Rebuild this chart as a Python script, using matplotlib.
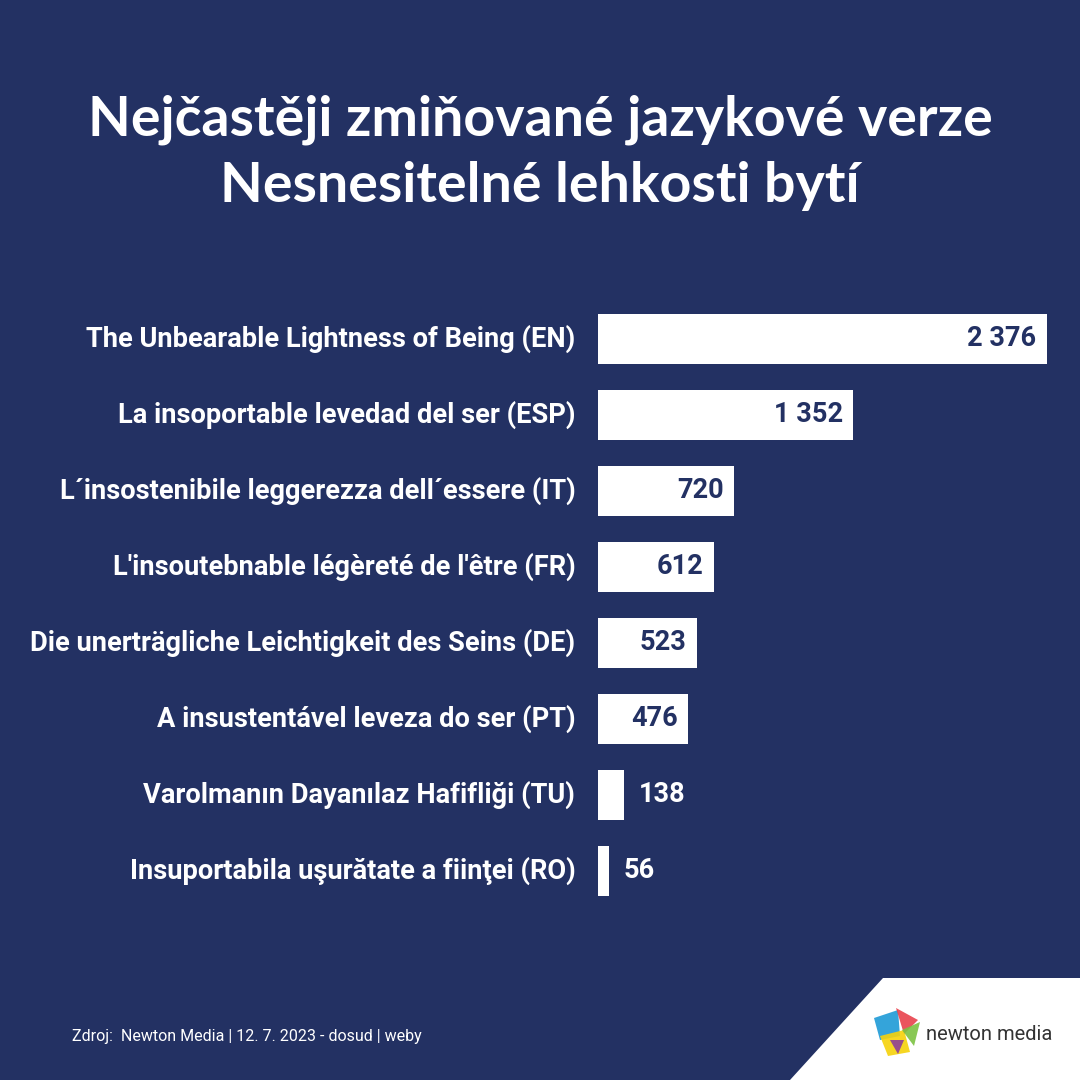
import matplotlib
matplotlib.use('Agg')
import matplotlib.pyplot as plt
from matplotlib.patches import Polygon

labels = [
    "The Unbearable Lightness of Being (EN)",
    "La insoportable levedad del ser (ESP)",
    "L´insostenibile leggerezza dell´essere (IT)",
    "L'insoutebnable légèreté de l'être (FR)",
    "Die unerträgliche Leichtigkeit des Seins (DE)",
    "A insustentável leveza do ser (PT)",
    "Varolmanın Dayanılaz Hafifliği (TU)",
    "Insuportabila uşurătate a fiinţei (RO)",
]
values = [2376, 1352, 720, 612, 523, 476, 138, 56]

bg = '#233163'
W = H = 1080
fig = plt.figure(figsize=(10.8, 10.8), dpi=100, facecolor=bg)

def fx(px): return px / W
def fy(py): return 1 - py / H

fig.text(0.5, fy(120), "Nejčastěji zmiňované jazykové verze", ha='center', va='center',
         color='white', fontsize=40, fontweight='bold', family='Lato')
fig.text(0.5, fy(186), "Nesnesitelné lehkosti bytí", ha='center', va='center',
         color='white', fontsize=40, fontweight='bold', family='Lato')

# axes: x 598..1047 px -> 0..2376 ; rows centered 339 + 76*i
top, bot = 339 - 38, 871 + 38
ax = fig.add_axes([fx(598), fy(bot), fx(1047) - fx(598), (bot - top) / H])
ax.set_facecolor(bg)
ax.set_xlim(0, max(values))
n = len(values)
ax.set_ylim(n - 0.5, -0.5)
ax.barh(range(n), values, height=50 / 76, color='white')
for i, (lab, v) in enumerate(zip(labels, values)):
    ax.text(-120, i, lab, ha='right', va='center', color='white', fontsize=19.6,
            fontweight='bold', family='Roboto')
    s = f"{v:,}".replace(',', ' ')
    if v > 300:
        ax.text(v - 55, i, s, ha='right', va='center', color=bg, fontsize=19.5,
                fontweight='bold', family='Roboto')
    else:
        ax.text(v + 80, i, s, ha='left', va='center', color='white', fontsize=19.5,
                fontweight='bold', family='Roboto')
ax.axis('off')

fig.text(fx(72), fy(1037), "Zdroj:  Newton Media | 12. 7. 2023 - dosud | weby", ha='left',
         va='center', color='white', fontsize=11.5, family='Roboto')

# white corner and logo
fig.patches.append(Polygon([(fx(790), 0), (fx(883), fy(978)), (1, fy(978)), (1, 0)],
                           closed=True, transform=fig.transFigure, facecolor='white'))
logo = [
    ([(874, 1018), (898, 1010), (900, 1036), (880, 1040)], '#1e9ad6'),
    ([(896, 1008), (918, 1020), (904, 1034)], '#e8424c'),
    ([(880, 1036), (904, 1030), (910, 1052), (888, 1056)], '#f5d20a'),
    ([(902, 1030), (920, 1022), (914, 1046)], '#7cc242'),
    ([(890, 1040), (904, 1040), (898, 1054)], '#8e3f97'),
]
for pts, c in logo:
    fig.patches.append(Polygon([(fx(x), fy(y)) for x, y in pts], closed=True,
                               transform=fig.transFigure, facecolor=c, alpha=0.9))
fig.text(fx(926), fy(1034), "newton media", ha='left', va='center', color='#333333',
         fontsize=14.5, family='Roboto')

plt.savefig('out.png', dpi=100, facecolor=bg)
